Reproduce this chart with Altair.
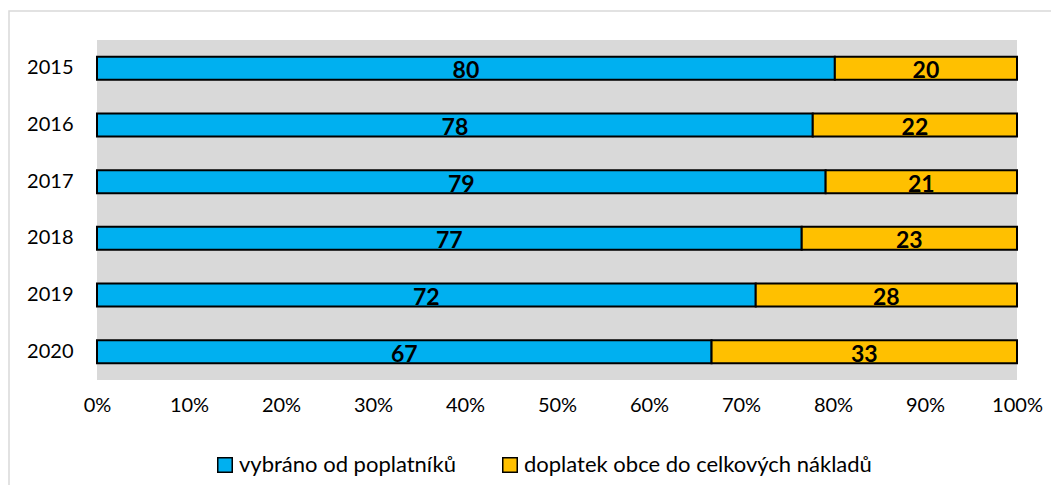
import altair as alt
import pandas as pd

years = ["2015", "2016", "2017", "2018", "2019", "2020"]
collected = [80.2, 77.8, 79.2, 76.6, 71.6, 66.8]
municipality = [19.8, 22.2, 20.8, 23.4, 28.4, 33.2]
series = ["vybráno od poplatníků", "doplatek obce do celkových nákladů"]
colors = ["#00B0F0", "#FFC000"]

rows = []
for i, y in enumerate(years):
    rows.append({"year": y, "series": series[0], "order": 0, "value": collected[i]})
    rows.append({"year": y, "series": series[1], "order": 1, "value": municipality[i]})
df = pd.DataFrame(rows)

FONT = "Lato"

base = alt.Chart(df).transform_stack(
    stack="value", groupby=["year"], as_=["v0", "v1"],
    sort=[alt.SortField(field="order", order="ascending")], offset="normalize"
).transform_calculate(mid="(datum.v0 + datum.v1) / 2")

yenc = alt.Y("year:N", sort=years, title=None,
             scale=alt.Scale(paddingInner=0, paddingOuter=0),
             axis=alt.Axis(labelFontSize=20, labelFont=FONT, labelColor="#000000",
                           ticks=False, domain=False, labelPadding=24))

bars = base.mark_bar(size=23, stroke="#000000", strokeWidth=2).encode(
    x=alt.X("v0:Q", title=None,
            scale=alt.Scale(domain=[0, 1], nice=False),
            axis=alt.Axis(format=".0%", values=[i / 10 for i in range(11)],
                          labelFontSize=20, labelFont=FONT, labelColor="#000000",
                          ticks=False, domain=False, grid=False, labelPadding=15,
                          labelFlush=False)),
    x2="v1:Q",
    y=yenc,
    color=alt.Color("series:N", sort=series,
                    scale=alt.Scale(domain=series, range=colors),
                    legend=alt.Legend(title=None, orient="none", direction="horizontal",
                                      legendX=117, legendY=414,
                                      symbolType="square", symbolSize=210,
                                      symbolStrokeColor="#000000", symbolStrokeWidth=1.5,
                                      symbolOpacity=1, labelLimit=500,
                                      labelFont=FONT, labelFontSize=22, labelColor="#000000",
                                      labelOffset=3, columnPadding=43)),
    order=alt.Order("order:Q"),
)

labels = base.mark_text(font=FONT, fontWeight="bold", fontSize=23, color="#000000",
                        baseline="middle", dy=3).encode(
    x="mid:Q",
    y=alt.Y("year:N", sort=years),
    text=alt.Text("value:Q", format=".0f"),
)

border = alt.Chart(pd.DataFrame({"a": [0]})).mark_rect(
    fill="transparent", stroke="#D9D9D9", strokeWidth=1.5
).encode(x=alt.value(-88), x2=alt.value(1000), y=alt.value(-29), y2=alt.value(520))

chart = alt.layer(border, bars, labels).properties(
    width=920, height=340,
    padding={"left": 89, "top": 32, "right": 34, "bottom": 105},
    autosize=alt.AutoSizeParams(type="none"),
    background="#FFFFFF",
).configure_view(fill="#D9D9D9", stroke=None)

chart.save("out.html", embed_options={"renderer": "svg", "actions": False})
